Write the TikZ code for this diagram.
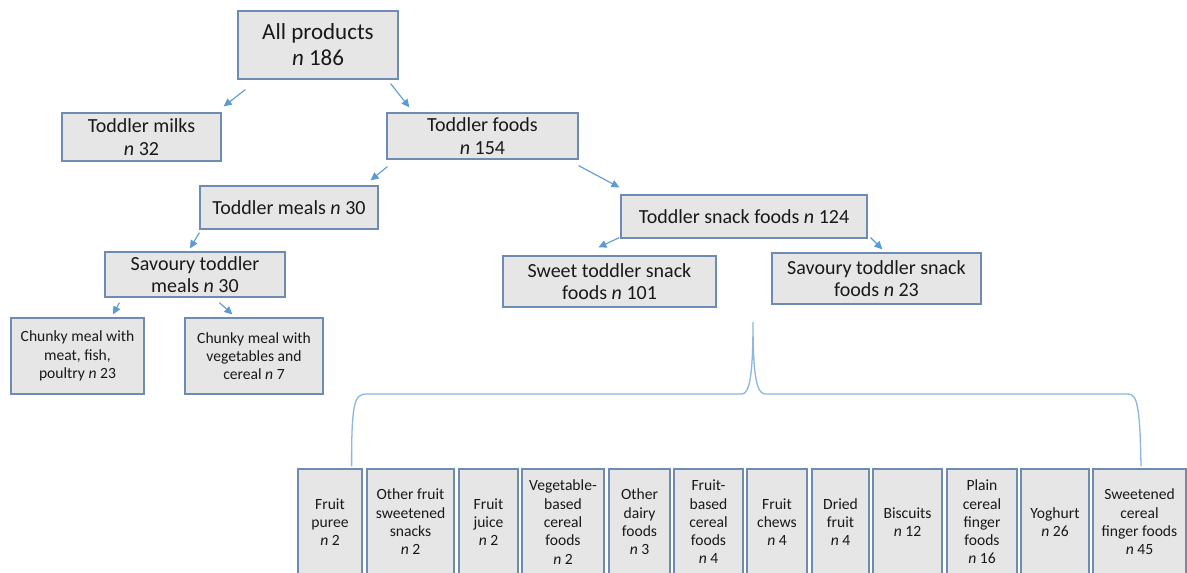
\documentclass[tikz,border=0pt]{standalone}
\usepackage{fontspec}
\setmainfont{Carlito}
\usetikzlibrary{arrows.meta,calc}
\definecolor{boxfill}{RGB}{231,230,230}
\definecolor{boxline}{RGB}{110,140,178}
\definecolor{arrc}{RGB}{91,155,213}
\definecolor{bracec}{RGB}{140,182,228}
\definecolor{textc}{RGB}{25,25,25}
\tikzset{
  box/.style={draw=boxline, fill=boxfill, line width=1.2pt, inner sep=0pt, align=center, text=textc},
  bigf/.style={font=\fontsize{23}{26}\selectfont},
  midf/.style={font=\fontsize{20}{22.5}\selectfont},
  smallf/.style={font=\fontsize{15.6}{18.3}\selectfont},
  arr/.style={draw=arrc, line width=1.1pt, -{Triangle[length=8pt,width=7.5pt]}},
  bracepath/.style={draw=bracec, line width=1.3pt}
}
\newcommand{\nn}{\textit{n}}
\begin{document}
\begin{tikzpicture}[x=1pt,y=-1pt]
\useasboundingbox (0,0) rectangle (1187,573);
\clip (0,0) rectangle (1187,573);
\fill[white] (0,0) rectangle (1187,573);
% upper tree
\node[box,bigf,minimum width=160pt,minimum height=68pt] (all) at (318,45) {All products\\\nn\ 186};
\node[box,midf,minimum width=159pt,minimum height=48pt] (milks) at (141.5,137) {Toddler milks\\\nn\ 32};
\node[box,midf,minimum width=191pt,minimum height=46pt] (foods) at (482.5,136) {Toddler foods\\\nn\ 154};
\node[box,midf,minimum width=178pt,minimum height=43pt] (meals) at (289,207.5) {Toddler meals \nn\ 30};
\node[box,midf,minimum width=246pt,minimum height=43pt] (snack) at (744,216.5) {Toddler snack foods \nn\ 124};
\node[box,midf,minimum width=180pt,minimum height=45pt] (savmeals) at (195,274.5) {Savoury toddler\\meals \nn\ 30};
\node[box,midf,minimum width=213pt,minimum height=51pt] (sweet) at (609.5,281.5) {Sweet toddler snack\\foods \nn\ 101};
\node[box,midf,minimum width=209pt,minimum height=51pt] (savsnack) at (876.5,278.5) {Savoury toddler snack\\foods \nn\ 23};
\node[box,smallf,minimum width=133pt,minimum height=76pt] (chunk1) at (77.5,356) {Chunky meal with\\meat, fish,\\poultry \nn\ 23};
\node[box,smallf,minimum width=138pt,minimum height=76pt] (chunk2) at (254,356) {Chunky meal with\\vegetables and\\cereal \nn\ 7};
% arrows
\draw[arr] ($(all.south west)+(8,10)$) -- ($(milks.north east)+(2,-6)$);
\draw[arr] ($(all.south east)+(-8,4)$) -- ($(foods.north west)+(23,-5)$);
\draw[arr] ($(foods.south west)+(1,7)$) -- ($(meals.north east)+(-8,-5)$);
\draw[arr] ($(foods.south east)+(0,6)$) -- ($(snack.north west)+(-1,-7)$);
\draw[arr] ($(meals.south west)+(0,3)$) -- ($(savmeals.north)+(-5,-3)$);
\draw[arr] ($(savmeals.south west)+(15,5)$) -- ($(chunk1.north)+(35.5,-3)$);
\draw[arr] ($(savmeals.south west)+(115,5)$) -- ($(chunk2.north west)+(48,-3)$);
\draw[arr] ($(snack.south west)+(-1,-1)$) -- ($(sweet.north west)+(96,-8)$);
\draw[arr] ($(snack.south east)+(3,-1)$) -- ($(savsnack.north west)+(111,-3)$);
% bottom boxes
\tikzset{bb/.style={box,smallf,minimum height=106pt}}
\node[bb,minimum width=64pt] (b1) at (330,522) {Fruit\\puree\\\nn\ 2};
\node[bb,minimum width=87pt] (b2) at (410.5,522) {Other fruit\\sweetened\\snacks\\\nn\ 2};
\node[bb,minimum width=59pt] (b3) at (488.5,522) {Fruit\\juice\\\nn\ 2};
\node[bb,minimum width=82pt] (b4) at (563,522) {Vegetable-\\based\\cereal\\foods\\\nn\ 2};
\node[bb,minimum width=61pt] (b5) at (639.5,522) {Other\\dairy\\foods\\\nn\ 3};
\node[bb,minimum width=69pt] (b6) at (708.5,522) {Fruit-\\based\\cereal\\foods\\\nn\ 4};
\node[bb,minimum width=60pt] (b7) at (777,522) {Fruit\\chews\\\nn\ 4};
\node[bb,minimum width=57pt] (b8) at (840.5,522) {Dried\\fruit\\\nn\ 4};
\node[bb,minimum width=69pt] (b9) at (907.5,522) {Biscuits\\\nn\ 12};
\node[bb,minimum width=70pt] (b10) at (982,522) {Plain\\cereal\\finger\\foods\\\nn\ 16};
\node[bb,minimum width=68pt] (b11) at (1055,522) {Yoghurt\\\nn\ 26};
\node[bb,minimum width=93pt] (b12) at (1139.5,522) {Sweetened\\cereal\\finger foods\\\nn\ 45};
% brace
\coordinate (tip) at (753,322);
\draw[bracepath] ($(b1.north east)+(-11,-2)$) .. controls (351.5,405) and (354,394) .. (366,394)
  -- (742,394) .. controls (750,394) and (753,372) .. (tip)
  .. controls (753,372) and (756,394) .. (765,394)
  -- (1128,394) .. controls (1137,394) and (1140,405) .. ($(b12.north)+(1.5,-2)$);
\end{tikzpicture}
\end{document}
